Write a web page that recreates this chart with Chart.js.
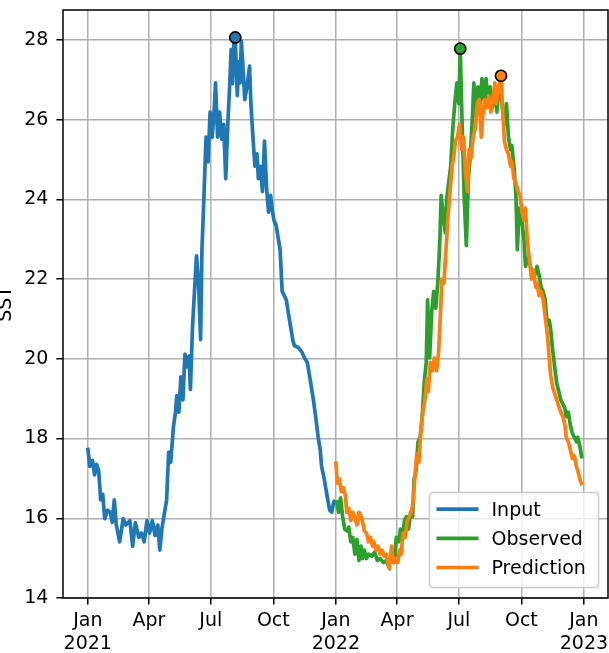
<!DOCTYPE html>
<html>
<head>
<meta charset="utf-8">
<script src="https://cdn.jsdelivr.net/npm/chart.js@4.4.0/dist/chart.umd.min.js"></script>
<style>
  html, body { margin: 0; padding: 0; background: #fff; }
  #wrap { width: 609px; height: 653px; }
</style>
</head>
<body>
<div id="wrap"><canvas id="c" width="609" height="653"></canvas></div>
<script>
// Days are counted from 2021-01-01; values are sea surface temperature.
const inputDays = [0,3,7,10,13,16,19,22,25,29,33,36,39,42,47,52,56,62,66,70,75,79,83,87,91,95,99,103,106,109,113,116,119,122,126,129,131,134,137,140,143,146,149,151,154,157,160,163,166,168,171,174,177,180,183,186,188,191,194,197,200,203,206,209,211,213,215,217,220,222,224,226,229,231,235,238,240,243,246,249,251,254,257,260,263,266,269,271,274,277,280,283,286,289,292,296,299,302,304,310,315,319,323,327,332,336,339,342,344,348,352,356,359,362,364];
const inputSST = [17.77,17.3,17.45,17.09,17.35,17.2,16.46,16.6,15.99,16.2,16.15,15.9,16.46,15.83,15.41,15.99,15.83,15.94,15.3,15.89,15.52,15.63,15.41,15.94,15.63,15.94,15.57,15.83,15.2,15.73,16.15,16.46,17.66,17.4,18.29,18.66,19.08,18.66,19.55,18.97,20.12,19.8,20.07,19.23,20.75,21.69,22.58,21.9,20.48,22.74,24.1,25.56,24.94,26.19,25.56,26.24,26.92,25.56,26.19,25.51,25.88,24.52,25.88,26.92,27.76,26.9,27.95,28.06,26.6,27.45,26.92,27.97,27.13,26.5,26.92,27.34,26.4,25.56,24.83,25.14,24.52,24.83,24.2,25.46,24.3,23.68,24.1,23.78,23.47,23.36,23.05,22.74,21.69,21.59,21.48,21.06,20.75,20.44,20.33,20.28,20.17,20.02,19.91,19.5,18.97,18.45,18.03,17.72,17.3,16.98,16.57,16.2,16.15,16.41,16.46];

const observedDays = [366,369,372,375,378,382,384,387,390,393,396,399,402,404,407,410,413,418,422,426,430,435,439,443,447,451,454,458,460,463,466,469,472,475,478,480,483,486,489,492,495,498,500,503,506,509,512,515,518,520,523,526,528,531,534,537,540,543,546,548,551,554,557,560,563,566,568,571,574,577,580,583,586,589,592,595,599,602,604,607,610,613,616,619,622,624,627,630,632,635,638,642,644,648,653,658,661,664,667,670,673,676,679,681,684,687,690,693,696,699,702,704,707,710,713,716,719,721,724,727];
const observedSST = [16.46,16.15,16.51,16.04,15.73,15.68,15.78,15.41,15.52,15.1,15.47,14.94,15.3,14.99,15.2,14.99,15.1,15.05,15.15,14.94,14.99,14.89,14.94,14.78,15.2,14.89,15.52,15.41,15.73,15.52,15.94,16.04,15.73,16.15,16.04,16.98,17.19,17.92,18.03,18.55,19.39,19.91,21.48,20.02,21.17,21.69,21.27,21.9,22.95,24.1,23.57,23.16,24.0,24.41,24.83,25.77,26.4,26.92,26.4,27.78,25.77,24.0,22.84,24.52,25.14,26.09,26.92,26.09,26.82,26.4,27.03,26.5,27.03,26.4,26.82,26.3,26.71,26.19,26.6,26.92,26.3,25.88,26.4,25.56,25.25,25.35,24.83,24.1,22.74,23.78,23.57,22.95,22.32,22.53,22.22,22.11,22.32,22.11,21.8,21.69,21.48,20.85,20.96,20.75,20.23,19.8,19.39,19.18,18.97,18.87,18.76,18.55,18.66,18.34,18.13,18.03,17.92,18.03,17.82,17.5];

const predictionDays = [365,367,370,373,376,379,381,384,387,390,393,396,399,401,404,407,410,413,416,419,421,424,427,430,433,436,439,441,444,447,450,453,456,459,461,464,467,470,473,476,479,481,484,487,490,493,496,499,501,504,507,510,513,516,519,521,524,527,530,533,536,539,541,544,547,550,553,556,559,561,564,567,570,573,576,579,581,584,587,590,593,596,599,601,604,608,610,613,616,619,622,624,627,630,633,636,639,642,644,646,648,651,653,656,659,661,664,667,670,673,676,679,681,684,687,690,693,696,699,702,704,707,710,713,716,719,721,724,727];
const predictionSST = [17.43,16.88,16.98,16.67,16.77,16.57,16.15,16.25,15.94,16.15,16.04,15.83,16.15,16.1,15.94,15.68,15.63,15.41,15.52,15.3,15.41,15.2,15.3,15.1,15.2,15.05,15.1,14.94,14.73,15.3,14.89,14.99,14.89,15.2,15.1,15.63,15.52,15.94,16.04,16.15,16.46,16.98,17.61,17.4,18.13,18.66,18.97,19.5,19.18,19.91,19.7,20.02,19.7,20.12,21.17,22.0,21.9,22.74,23.57,24.2,24.83,25.14,25.46,25.56,25.88,25.25,25.56,24.62,24.2,25.25,25.04,25.56,25.77,26.4,26.5,25.56,26.09,26.5,26.3,26.6,26.19,26.5,26.92,26.4,26.71,27.1,26.4,25.46,25.25,25.14,24.83,24.94,24.52,24.41,24.2,24.1,23.68,23.47,23.78,23.16,22.74,22.32,22.0,22.22,21.8,21.9,21.59,21.69,21.48,21.06,20.64,20.02,19.6,19.29,19.13,18.97,18.81,18.66,18.55,18.34,18.03,17.92,17.72,17.5,17.56,17.3,17.19,16.98,16.83];

// Month ticks on the date axis and their labels.
const tickDays = [0, 90, 181, 273, 365, 455, 546, 638, 730];
const tickLabels = [["Jan","2021"],["Apr"],["Jul"],["Oct"],["Jan","2022"],["Apr"],["Jul"],["Oct"],["Jan","2023"]];
const sstTicks = [14, 16, 18, 20, 22, 24, 26, 28];

const BLUE = '#1f77b4', GREEN = '#2ca02c', ORANGE = '#ff7f0e';

const toPoints = (days, vals) => days.map((d, i) => ({ x: d, y: vals[i] }));
function peakOf(days, vals) {
  let k = 0;
  vals.forEach((v, i) => { if (v > vals[k]) k = i; });
  return [{ x: days[k], y: vals[k] }];
}

const lineSet = (label, days, vals, color, order) => ({
  type: 'line', label, data: toPoints(days, vals),
  borderColor: color, backgroundColor: color, borderWidth: 3.7,
  pointRadius: 0, pointHoverRadius: 0, tension: 0, fill: false,
  borderJoinStyle: 'round', borderCapStyle: 'butt', order
});
const peakSet = (days, vals, color) => ({
  type: 'scatter', label: '', data: peakOf(days, vals),
  pointRadius: 5.6, pointHoverRadius: 5.6, pointBorderWidth: 1.6,
  pointBorderColor: '#000', pointBackgroundColor: color, order: 0
});

const gridOpts = { color: '#b0b0b0', lineWidth: 1.5, tickColor: '#000', tickWidth: 1.5, tickLength: 6.6 };
const zeroPad = s => { s.paddingLeft = 0; s.paddingRight = 0; s.paddingTop = 0; s.paddingBottom = 0; };

// Frame around the plotting area (all four spines).
const framePlugin = {
  id: 'frame',
  afterDatasetsDraw(chart) {
    const { ctx, chartArea: a } = chart;
    ctx.save();
    ctx.strokeStyle = '#000';
    ctx.lineWidth = 1.5;
    ctx.strokeRect(a.left, a.top, a.right - a.left, a.bottom - a.top);
    ctx.restore();
  }
};

// Legend box in the lower-right corner of the plotting area.
const legendPlugin = {
  id: 'cornerLegend',
  afterDraw(chart) {
    const { ctx, chartArea: a } = chart;
    const items = chart.data.datasets.filter(d => d.type === 'line');
    const w = 169, h = 95;
    const x0 = a.right - 9.5 - w, y0 = a.bottom - 10.5 - h;
    ctx.save();
    ctx.beginPath();
    if (ctx.roundRect) ctx.roundRect(x0, y0, w, h, 3.8); else ctx.rect(x0, y0, w, h);
    ctx.fillStyle = 'rgba(255,255,255,0.8)';
    ctx.fill();
    ctx.lineWidth = 1.5;
    ctx.strokeStyle = '#cccccc';
    ctx.stroke();
    ctx.font = '19px "DejaVu Sans"';
    ctx.textBaseline = 'alphabetic';
    items.forEach((d, i) => {
      const cy = y0 + 16.6 + i * 29.2;
      ctx.beginPath();
      ctx.moveTo(x0 + 8.8, cy);
      ctx.lineTo(x0 + 47.2, cy);
      ctx.strokeStyle = d.borderColor;
      ctx.lineWidth = 3.7;
      ctx.lineCap = 'square';
      ctx.stroke();
      ctx.fillStyle = '#000';
      ctx.fillText(d.label, x0 + 62, cy + 6.8);
    });
    ctx.restore();
  }
};

Chart.defaults.font.family = '"DejaVu Sans"';
Chart.defaults.font.size = 19;
Chart.defaults.color = '#000';

new Chart(document.getElementById('c'), {
  type: 'line',
  data: {
    datasets: [
      lineSet('Input', inputDays, inputSST, BLUE, 3),
      lineSet('Observed', observedDays, observedSST, GREEN, 2),
      lineSet('Prediction', predictionDays, predictionSST, ORANGE, 1),
      peakSet(inputDays, inputSST, BLUE),
      peakSet(observedDays, observedSST, GREEN),
      peakSet(predictionDays, predictionSST, ORANGE)
    ]
  },
  options: {
    responsive: false,
    animation: false,
    devicePixelRatio: 1,
    layout: { autoPadding: false, padding: { left: 0, top: 10, right: 1, bottom: 0 } },
    plugins: { legend: { display: false }, tooltip: { enabled: false } },
    events: [],
    scales: {
      x: {
        type: 'linear', min: -36.45, max: 765.45,
        afterBuildTicks: s => { s.ticks = tickDays.map(v => ({ value: v })); },
        ticks: {
          autoSkip: false, maxRotation: 0, minRotation: 0, padding: 5,
          callback: (v, i) => tickLabels[i]
        },
        grid: gridOpts,
        border: { display: false },
        afterFit: s => { s.height = 55; zeroPad(s); }
      },
      y: {
        type: 'linear', min: 14, max: 28.75,
        afterBuildTicks: s => { s.ticks = sstTicks.map(v => ({ value: v })); },
        ticks: { padding: 8, callback: v => String(v) },
        grid: gridOpts,
        border: { display: false },
        title: { display: true, text: 'SST', padding: 0, font: { size: 19, lineHeight: '13px' } },
        afterFit: s => { s.width = 63; zeroPad(s); }
      }
    }
  },
  plugins: [framePlugin, legendPlugin]
});
</script>
</body>
</html>
